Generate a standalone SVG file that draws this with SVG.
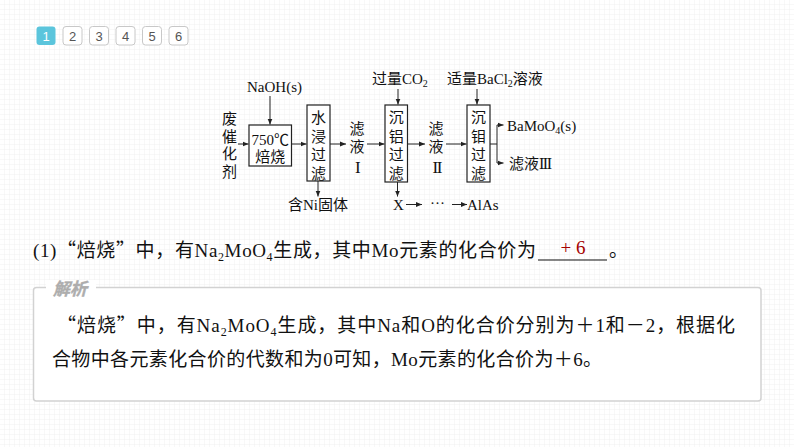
<svg xmlns="http://www.w3.org/2000/svg" width="794" height="447" viewBox="0 0 794 447">
<defs>
<pattern id="grid" width="5" height="5" patternUnits="userSpaceOnUse">
<path d="M5 0V5H0" fill="none" stroke="#f1f1f1" stroke-width="1"/>
</pattern>
<marker id="ah" markerUnits="userSpaceOnUse" markerWidth="7" markerHeight="6" refX="6" refY="3" orient="auto">
<path d="M0,0.5 L6,3 L0,5.5 z" fill="#222"/>
</marker>
<style>
.tab{fill:#fff;stroke:#c8c8c8;stroke-width:1}
.tabt{font-family:"Liberation Sans",Arial,sans-serif;font-size:13px;fill:#555;text-anchor:middle}
.f{font-family:"Liberation Serif","Noto Sans CJK SC",serif;font-size:15px;fill:#111}
.v{font-family:"Liberation Serif","Noto Sans CJK SC",serif;font-size:15px;fill:#111;text-anchor:middle}
.rn{font-family:"Liberation Serif",serif;font-size:17px;fill:#111;text-anchor:middle;letter-spacing:-1.5px}
.box{fill:#fff;stroke:#222;stroke-width:1.2}
.ln{fill:none;stroke:#222;stroke-width:1}
.q{font-family:"Liberation Serif","Noto Sans CJK SC",serif;font-size:19px;fill:#111}
.qc{font-family:"Noto Sans CJK SC",sans-serif}
</style>
</defs>
<rect width="794" height="447" fill="#fff"/>
<rect width="794" height="447" fill="url(#grid)"/>

<g id="tabs">
<rect x="36.5" y="26.5" width="19" height="18.5" rx="3" fill="#5bc5dc"/>
<text x="46" y="41" class="tabt" style="fill:#fff">1</text>
<rect x="63" y="26.5" width="19" height="18.5" rx="3" class="tab"/>
<text x="72.5" y="41" class="tabt">2</text>
<rect x="89.5" y="26.5" width="19" height="18.5" rx="3" class="tab"/>
<text x="99" y="41" class="tabt">3</text>
<rect x="116" y="26.5" width="19" height="18.5" rx="3" class="tab"/>
<text x="125.5" y="41" class="tabt">4</text>
<rect x="142.5" y="26.5" width="19" height="18.5" rx="3" class="tab"/>
<text x="152" y="41" class="tabt">5</text>
<rect x="169" y="26.5" width="19" height="18.5" rx="3" class="tab"/>
<text x="178.5" y="41" class="tabt">6</text>
</g>

<g id="connectors">
<path class="ln" d="M238 144H248.5" marker-end="url(#ah)"/>
<path class="ln" d="M270 96V124.5" marker-end="url(#ah)"/>
<path class="ln" d="M292 144H306.5" marker-end="url(#ah)"/>
<path class="ln" d="M330 144H346" marker-end="url(#ah)"/>
<path class="ln" d="M367 144H384.5" marker-end="url(#ah)"/>
<path class="ln" d="M398 89V104.5" marker-end="url(#ah)"/>
<path class="ln" d="M407.5 144H425" marker-end="url(#ah)"/>
<path class="ln" d="M446 144H466.5" marker-end="url(#ah)"/>
<path class="ln" d="M477 89V104.5" marker-end="url(#ah)"/>
<path class="ln" d="M490 144H497M497 125V163"/>
<path class="ln" d="M497 125H503.5" marker-end="url(#ah)"/>
<path class="ln" d="M497 163H503.5" marker-end="url(#ah)"/>
<path class="ln" d="M318 181V196.5" marker-end="url(#ah)"/>
<path class="ln" d="M397.5 182V196.5" marker-end="url(#ah)"/>
<path class="ln" d="M406 204.5H422" marker-end="url(#ah)"/>
<path class="ln" d="M452 204.5H467" marker-end="url(#ah)"/>
</g>

<g id="feed">
<text x="229.5" y="124" class="v">废</text>
<text x="229.5" y="141.5" class="v">催</text>
<text x="229.5" y="159" class="v">化</text>
<text x="229.5" y="176.5" class="v">剂</text>
</g>
<g id="naoh"><text x="247" y="92" class="f">NaOH(s)</text></g>
<g id="roast">
<rect x="249" y="125" width="42.5" height="41" class="box"/>
<text x="270.2" y="145" class="v">750℃</text>
<text x="270.2" y="162" class="v">焙烧</text>
</g>
<g id="leach">
<rect x="307" y="105" width="23" height="76" class="box"/>
<text x="318.5" y="123" class="v">水</text>
<text x="318.5" y="141.5" class="v">浸</text>
<text x="318.5" y="160" class="v">过</text>
<text x="318.5" y="178.5" class="v">滤</text>
</g>
<g id="filtrate1">
<text x="357" y="134" class="v">滤</text>
<text x="357" y="152" class="v">液</text>
<text x="357" y="173" class="rn">I</text>
</g>
<g id="co2"><text x="372" y="84" class="f">过量CO<tspan font-size="10" dy="3">2</tspan></text></g>
<g id="al">
<rect x="385" y="105" width="22.5" height="77" class="box"/>
<text x="396.2" y="123" class="v">沉</text>
<text x="396.2" y="141.5" class="v">铝</text>
<text x="396.2" y="160" class="v">过</text>
<text x="396.2" y="178.5" class="v">滤</text>
</g>
<g id="filtrate2">
<text x="436" y="134" class="v">滤</text>
<text x="436" y="152" class="v">液</text>
<text x="436.7" y="173" class="rn">II</text>
</g>
<g id="bacl2"><text x="447" y="84" class="f">适量BaCl<tspan font-size="10" dy="3">2</tspan><tspan dy="-3">溶液</tspan></text></g>
<g id="mo">
<rect x="467" y="105" width="23" height="77" class="box"/>
<text x="478.5" y="123" class="v">沉</text>
<text x="478.5" y="141.5" class="v">钼</text>
<text x="478.5" y="160" class="v">过</text>
<text x="478.5" y="178.5" class="v">滤</text>
</g>
<g id="bamoo4"><text x="507" y="131" class="f">BaMoO<tspan font-size="10" dy="3">4</tspan><tspan dy="-3">(s)</tspan></text></g>
<g id="filtrate3"><text x="509" y="169" class="f">滤液<tspan font-size="16" letter-spacing="-1.5">III</tspan></text></g>
<g id="ni"><text x="288" y="210" class="f">含Ni固体</text></g>
<g id="x"><text x="393" y="210" class="f">X</text></g>
<g id="dots"><text x="430" y="208" class="f" font-size="11">···</text></g>
<g id="alas"><text x="467" y="210" class="f">AlAs</text></g>

<g id="question">
<text x="33" y="257" class="q" textLength="503" lengthAdjust="spacing">(1)<tspan class="qc">“焙烧”中，有</tspan>Na<tspan font-size="12" dy="4">2</tspan><tspan dy="-4">MoO</tspan><tspan font-size="12" dy="4">4</tspan><tspan class="qc" dy="-4">生成，其中</tspan>Mo<tspan class="qc">元素的化合价为</tspan></text>
<line x1="538" y1="260" x2="607" y2="260" stroke="#111" stroke-width="1"/>
<text x="573" y="254" class="q" text-anchor="middle" style="fill:#a50000">+ 6</text>
<text x="609" y="257" class="q qc">。</text>
</g>

<g id="analysis">
<rect x="33.5" y="287.5" width="727.5" height="113.5" rx="3" fill="#fff" stroke="#d2d2d2" stroke-width="1.5"/>
<rect x="46" y="280" width="50" height="12" fill="#fff"/>
<text x="53" y="295" font-family="Noto Sans CJK SC,sans-serif" font-size="17" font-weight="bold" font-style="italic" fill="#adadad" stroke="#adadad" stroke-width="0.4">解析</text>
<text x="57" y="332" class="q" textLength="678" lengthAdjust="spacing"><tspan class="qc">“焙烧”中，有</tspan>Na<tspan font-size="12" dy="4">2</tspan><tspan dy="-4">MoO</tspan><tspan font-size="12" dy="4">4</tspan><tspan class="qc" dy="-4">生成，其中</tspan>Na<tspan class="qc">和</tspan>O<tspan class="qc">的化合价分别为＋</tspan>1<tspan class="qc">和－</tspan>2<tspan class="qc">，根据化</tspan></text>
<text x="52" y="366" class="q" textLength="550" lengthAdjust="spacing"><tspan class="qc">合物中各元素化合价的代数和为</tspan>0<tspan class="qc">可知，</tspan>Mo<tspan class="qc">元素的化合价为＋</tspan>6<tspan class="qc">。</tspan></text>
</g>
</svg>
